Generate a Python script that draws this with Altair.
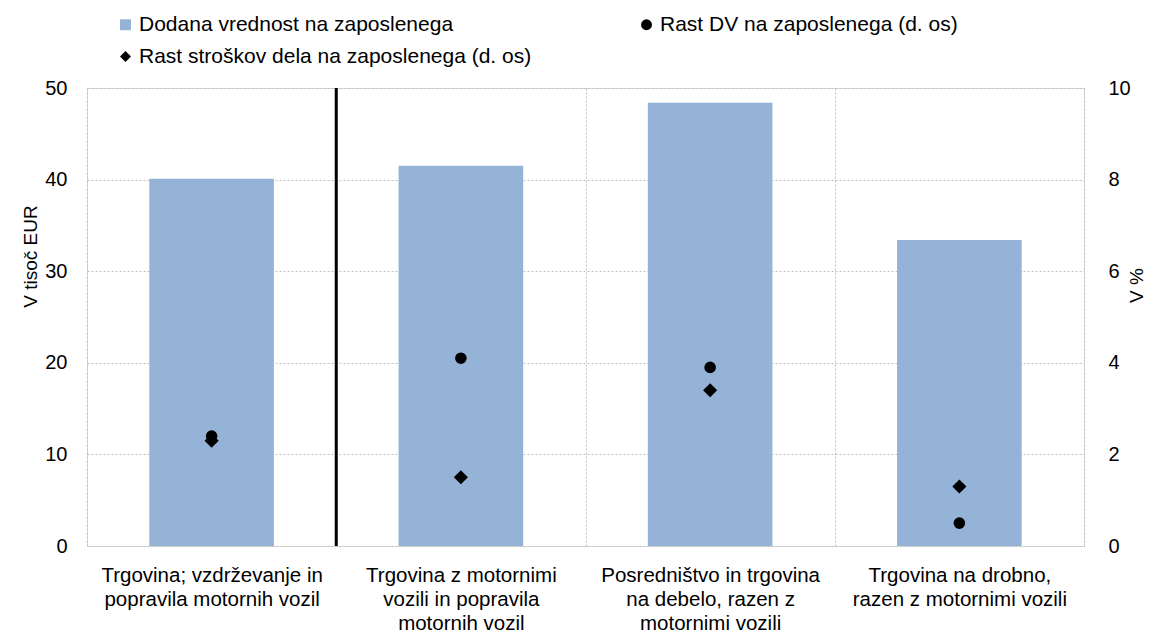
import altair as alt
import pandas as pd

# ---- data ----
categories = [
    "Trgovina; vzdrževanje in|popravila motornih vozil",
    "Trgovina z motornimi|vozili in popravila|motornih vozil",
    "Posredništvo in trgovina|na debelo, razen z|motornimi vozili",
    "Trgovina na drobno,|razen z motornimi vozili",
]
dodana = [40.1, 41.5, 48.4, 33.4]          # left axis, thousand EUR
rast_dv = [2.4, 4.1, 3.9, 0.5]             # right axis, %
rast_str = [2.3, 1.5, 3.4, 1.3]            # right axis, %

s_bar = "Dodana vrednost na zaposlenega"
s_dv = "Rast DV na zaposlenega (d. os)"
s_str = "Rast stroškov dela na zaposlenega (d. os)"
# legend is filled column by column: col 1 = bar, stroškov ; col 2 = DV
series = [s_bar, s_str, s_dv]

FONT = "Liberation Sans, Arial, sans-serif"
BLUE = "#95b3d7"
GRID = "#bfbfbf"

bar_df = pd.DataFrame({"cat": categories, "val": dodana, "series": s_bar})
dv_df = pd.DataFrame({"cat": categories, "val": rast_dv, "series": s_dv})
st_df = pd.DataFrame({"cat": categories, "val": rast_str, "series": s_str})
sep_df = pd.DataFrame({"cat": [categories[1]]})

xscale = alt.Scale(domain=categories, paddingInner=0, paddingOuter=0)
xaxis = alt.Axis(
    title=None, labelExpr="split(datum.label, '|')", labelAngle=0, labelLimit=0,
    grid=True, tickBand="extent", ticks=False, domain=False,
    gridColor=GRID, gridDash=[2, 2], labelFontSize=20.5, labelFont=FONT,
    labelColor="black", labelPadding=19, labelLineHeight=24, labelBaseline="top",
)
leg = alt.Legend(title=None, orient="none", legendX=28, legendY=-74,
                 columns=2, columnPadding=104, rowPadding=10,
                 symbolSize=120, labelFontSize=21, labelFont=FONT, labelLimit=0,
                 labelColor="black", labelOffset=3, padding=0)
color = alt.Color("series:N", scale=alt.Scale(domain=series, range=[BLUE, "black", "black"]),
                  legend=leg)
shape = alt.Shape("series:N", scale=alt.Scale(domain=series, range=["square", "diamond", "circle"]),
                  legend=leg)

bars = alt.Chart(bar_df).mark_bar(width=alt.RelativeBandSize(0.5), color=BLUE).encode(
    x=alt.X("cat:N", sort=categories, scale=xscale, axis=xaxis),
    y=alt.Y("val:Q", scale=alt.Scale(domain=[0, 50]),
            axis=alt.Axis(title="V tisoč EUR", values=[0, 10, 20, 30, 40, 50], orient="left",
                          ticks=False, domain=False, grid=True, gridColor=GRID, gridDash=[2, 2],
                          labelFontSize=20, labelFont=FONT, labelColor="black", labelPadding=20,
                          titleFontSize=19, titleFont=FONT, titleFontWeight="normal",
                          titleColor="black", titleAngle=270, titleX=-57, titleY=168,
                          titleAlign="center", titleBaseline="middle")),
    color=color,
)

sep = alt.Chart(sep_df).mark_rule(color="black", strokeWidth=3).encode(
    x=alt.X("cat:N", sort=categories, scale=xscale, bandPosition=0, axis=xaxis),
)

yright = alt.Y("val:Q", scale=alt.Scale(domain=[0, 10]),
               axis=alt.Axis(title="V %", values=[0, 2, 4, 6, 8, 10], orient="right",
                             ticks=False, domain=False, grid=False,
                             labelFontSize=20, labelFont=FONT, labelColor="black", labelPadding=24,
                             titleFontSize=19, titleFont=FONT, titleFontWeight="normal",
                             titleColor="black", titleAngle=270, titleX=52, titleY=197,
                             titleAlign="center", titleBaseline="middle"))

pts_dv = alt.Chart(dv_df).mark_point(filled=True, size=135, opacity=1).encode(
    x=alt.X("cat:N", sort=categories, scale=xscale, axis=xaxis),
    y=yright, color=color, shape=shape,
)
pts_st = alt.Chart(st_df).mark_point(filled=True, size=200, opacity=1).encode(
    x=alt.X("cat:N", sort=categories, scale=xscale, axis=xaxis),
    y=yright, color=color, shape=shape,
)

points = alt.layer(pts_dv, pts_st)

chart = alt.layer(bars, sep, points).resolve_scale(y="independent").properties(
    width=997, height=458,
    autosize=alt.AutoSizeParams(type="none"),
    padding={"left": 79, "top": 80, "right": 63, "bottom": 89},
).configure_view(stroke=GRID, strokeDash=[2, 2], strokeWidth=1).configure(
    font=FONT, background="white"
)

chart.save("out.html", embed_options={"renderer": "svg", "actions": False})
